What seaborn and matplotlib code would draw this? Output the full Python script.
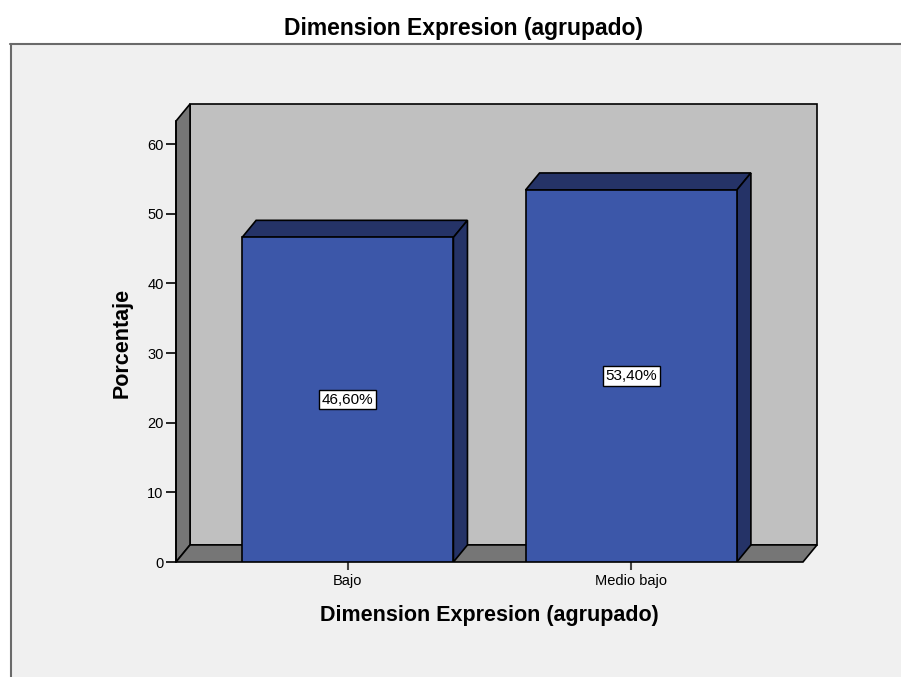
import matplotlib.pyplot as plt
import matplotlib.patches as mpatches
import seaborn as sns

# data
categorias = ['Bajo', 'Medio bajo']
porcentajes = [46.6, 53.4]
etiquetas = ['46,60%', '53,40%']

titulo = 'Dimension Expresion (agrupado)'

sns.set_style('white')
plt.rcParams['font.family'] = ['Liberation Sans', 'DejaVu Sans']
plt.rcParams['text.color'] = 'black'
plt.rcParams['xtick.color'] = 'black'
plt.rcParams['ytick.color'] = 'black'

fig = plt.figure(figsize=(9.01, 6.77), dpi=100, facecolor='white')

# grey panel behind the chart
W, H = 901, 677
panel = mpatches.Rectangle((10 / W, 0), 1, 1 - 43 / H, transform=fig.transFigure,
                           facecolor='#f0f0f0', edgecolor='none', zorder=-5)
fig.patches.append(panel)
fig.add_artist(plt.Line2D([10 / W, 1], [1 - 44 / H, 1 - 44 / H], transform=fig.transFigure,
                          color='#6a6a6a', lw=1.5, zorder=-4))
fig.add_artist(plt.Line2D([10.5 / W, 10.5 / W], [0, 1 - 44 / H], transform=fig.transFigure,
                          color='#6a6a6a', lw=1.5, zorder=-4))

# axes covers front plane plus depth
ax = fig.add_axes([176 / W, 1 - 562 / H, (817 - 176) / W, (562 - 104) / H])
ax.set_facecolor('none')
ax.set_zorder(2)

x0, x1 = -0.606, 1.606
ytop = 63.3
dx, dy = 0.0495, 2.45
ancho = 0.7456

wall = '#c0c0c0'
side = '#767676'
front = '#3c57a9'
dark = '#253367'

# back wall, left wall, floor
ax.add_patch(mpatches.Rectangle((x0 + dx, dy), x1 - x0, ytop, facecolor=wall,
                                edgecolor='black', lw=1.2, zorder=1, clip_on=False))
ax.add_patch(mpatches.Polygon([(x0, 0), (x0 + dx, dy), (x0 + dx, ytop + dy), (x0, ytop)],
                              facecolor=side, edgecolor='black', lw=1.2, zorder=1, clip_on=False))
ax.add_patch(mpatches.Polygon([(x0, 0), (x1, 0), (x1 + dx, dy), (x0 + dx, dy)],
                              facecolor=side, edgecolor='black', lw=1.2, zorder=1, clip_on=False))

sns.barplot(x=categorias, y=porcentajes, color=front, saturation=1, width=ancho,
            edgecolor='black', linewidth=1.2, ax=ax, zorder=3)

for i, v in enumerate(porcentajes):
    a, b = i - ancho / 2, i + ancho / 2
    ax.add_patch(mpatches.Polygon([(a, v), (a + dx, v + dy), (b + dx, v + dy), (b, v)],
                                  facecolor=dark, edgecolor='black', lw=1.2, zorder=2))
    ax.add_patch(mpatches.Polygon([(b, 0), (b + dx, dy), (b + dx, v + dy), (b, v)],
                                  facecolor=dark, edgecolor='black', lw=1.2, zorder=2))
    ax.text(i, v / 2, etiquetas[i], ha='center', va='center', fontsize=11, zorder=5,
            bbox=dict(boxstyle='square,pad=0.18', facecolor='white', edgecolor='black', lw=1))

ax.set_xlim(x0, x1 + dx)
ax.set_ylim(0, ytop + dy)
for s in ['top', 'right', 'bottom']:
    ax.spines[s].set_visible(False)
ax.spines['left'].set_bounds(0, ytop)
ax.spines['left'].set_linewidth(1.2)
ax.spines['left'].set_color('black')
ax.set_yticks([0, 10, 20, 30, 40, 50, 60])
ax.tick_params(axis='y', direction='out', length=7, width=1.2, labelsize=10.5, left=True, pad=2)
ax.tick_params(axis='x', direction='out', length=6, width=1.5, labelsize=10.5, bottom=True,
               pad=3, color='#444444')
ax.set_xlabel('')
ax.set_ylabel('')

fig.text(463 / W, 1 - 28 / H, titulo, ha='center', va='center', fontsize=16.5, fontweight='bold')
fig.text(489 / W, 1 - 615 / H, titulo, ha='center', va='center', fontsize=15.5, fontweight='bold')
fig.text(122 / W, 1 - 343 / H, 'Porcentaje', ha='center', va='center', rotation=90,
         fontsize=15.5, fontweight='bold')

plt.savefig('out.png', dpi=100, facecolor='white')
plt.close()
